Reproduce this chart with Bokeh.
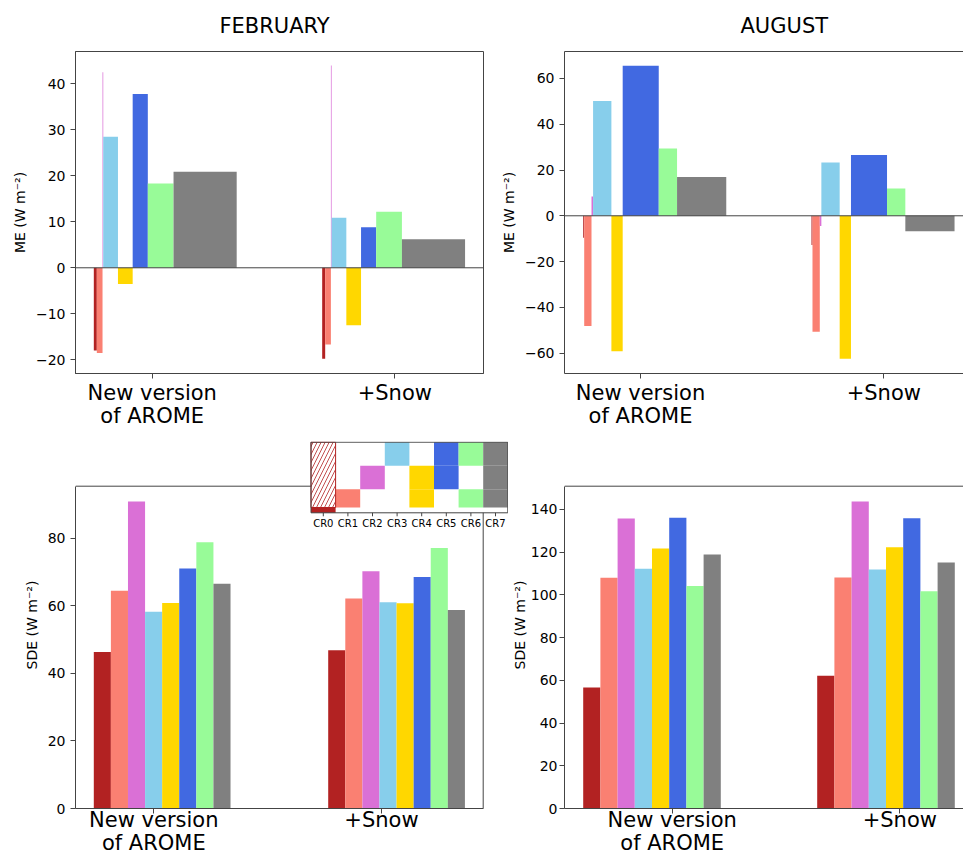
import numpy as np
from bokeh.plotting import figure
from bokeh.layouts import column, row
from bokeh.models import Range1d, LinearAxis, FixedTicker, Span
from bokeh.embed import file_html
from bokeh.resources import INLINE
from bokeh.core.properties import value

FONT = "DejaVu Sans"
FRAME = "#444444"

# ---------------- data ----------------
regimes = ["CR0", "CR1", "CR2", "CR3", "CR4", "CR5", "CR6", "CR7"]
colors = ["firebrick", "salmon", "orchid", "skyblue", "gold", "royalblue", "palegreen", "gray"]
experiments = ["New version\nof AROME", "+Snow"]

# regime frequency of occurrence (%) -> widths of the ME bars
freq_feb = [2.1, 4.0, 0.5, 10.3, 10.3, 10.6, 18.0, 44.2]
freq_aug = [0.7, 5.1, 1.1, 12.8, 7.9, 25.2, 12.8, 34.4]

# mean error (W m-2)
me_feb_new = [-18.0, -18.5, 42.5, 28.5, -3.5, 37.8, 18.3, 20.9]
me_feb_snow = [-19.8, -16.7, 44.0, 10.9, -12.5, 8.8, 12.2, 6.2]
me_aug_new = [-9.6, -48.2, 8.4, 50.2, -59.2, 65.5, 29.4, 16.9]
me_aug_snow = [-12.8, -50.7, -4.5, 23.3, -62.5, 26.6, 11.9, -6.7]

# standard deviation of error (W m-2)
sde_feb_new = [46.3, 64.4, 90.8, 58.2, 60.8, 71.0, 78.8, 66.5]
sde_feb_snow = [46.8, 62.1, 70.2, 61.0, 60.7, 68.5, 77.1, 58.7]
sde_aug_new = [56.6, 108.0, 135.8, 112.2, 121.7, 136.1, 104.2, 118.9]
sde_aug_snow = [62.1, 108.1, 143.7, 111.9, 122.3, 135.9, 101.7, 115.2]

# cloud layers present in each regime (legend inset)
layers = [[], ["low"], ["mid"], ["high"], ["low", "mid"], ["mid", "high"],
          ["low", "high"], ["low", "mid", "high"]]

me_feb_ticks = [-20, -10, 0, 10, 20, 30, 40]
me_aug_ticks = [-60, -40, -20, 0, 20, 40, 60]
sde_feb_ticks = [0, 20, 40, 60, 80]
sde_aug_ticks = [0, 20, 40, 60, 80, 100, 120, 140]


# ---------------- helpers ----------------
def style_axis(ax):
    ax.axis_line_color = FRAME
    ax.axis_line_width = 1
    ax.major_tick_line_color = FRAME
    ax.major_tick_out = 5
    ax.major_tick_in = 0
    ax.minor_tick_line_color = None
    ax.major_label_text_font = FONT
    ax.major_label_text_font_size = "14px"
    ax.major_label_text_color = "black"
    ax.axis_label_text_font = FONT
    ax.axis_label_text_font_size = "14px"
    ax.axis_label_text_font_style = "normal"
    ax.axis_label_text_color = "black"
    ax.axis_label_text_line_height = 1.0


def make_fig(width, height, xr, yr, borders, outline=True, top_axis=False, xlab_standoff=2):
    l, r, t, b = borders
    p = figure(width=width, height=height, x_range=Range1d(*xr), y_range=Range1d(*yr),
               output_backend="svg", toolbar_location=None,
               min_border_left=l, min_border_right=r, min_border_top=t, min_border_bottom=b)
    p.grid.visible = False
    p.outline_line_color = FRAME if outline else None
    p.outline_line_width = 1
    p.border_fill_color = "white"
    p.background_fill_color = "white"
    for ax in p.axis:
        style_axis(ax)
    p.xaxis.ticker = FixedTicker(ticks=[0, 1])
    p.xaxis.major_label_overrides = {0: experiments[0], 1: experiments[1]}
    p.xaxis.major_label_text_font_size = "21px"
    p.xaxis.major_label_text_line_height = 0.96
    p.xaxis.major_label_standoff = xlab_standoff
    if top_axis:
        top = LinearAxis(ticker=FixedTicker(ticks=[]))
        style_axis(top)
        top.major_tick_out = 0
        p.add_layout(top, "above")
    return p


def set_yticks(p, ticks, label):
    p.yaxis.ticker = FixedTicker(ticks=ticks)
    p.yaxis.major_label_overrides = {t: str(t).replace("-", "\u2212") for t in ticks}
    p.yaxis.axis_label = label


def set_title(p, text, offset, standoff):
    p.title.text = text
    p.title.text_font = FONT
    p.title.text_font_size = "21px"
    p.title.text_font_style = "normal"
    p.title.text_color = "black"
    p.title.align = "left"
    p.title.vertical_align = "top"
    p.title.offset = offset
    p.title.standoff = standoff


def me_bars(p, freq, groups, group_left, total_width):
    w = np.array(freq) / 100.0 * total_width
    for vals, gl in zip(groups, group_left):
        v = np.array(vals)
        left = gl + np.concatenate([[0], np.cumsum(w)[:-1]])
        p.quad(left=left, right=left + w, bottom=np.minimum(v, 0), top=np.maximum(v, 0),
               fill_color=colors, line_color=None)
    p.add_layout(Span(location=0, dimension="width", line_color=FRAME, line_width=1))


def sde_bars(p, groups, group_left, bw):
    for vals, gl in zip(groups, group_left):
        x = gl + bw * (np.arange(len(vals)) + 0.5)
        p.vbar(x=x, width=bw, bottom=0, top=vals, fill_color=colors, line_color=None)


ME_LABEL = "ME (W m\u207b\u00b2)"
SDE_LABEL = "SDE (W m\u207b\u00b2)"

# ---------------- top-left: FEBRUARY ME ----------------
p1 = make_fig(495, 430, (-0.3162, 1.3657), (-22.98, 47.02), (75, 12, 51, 57))
set_yticks(p1, me_feb_ticks, ME_LABEL)
set_title(p1, "FEBRUARY", 144, 24)
me_bars(p1, freq_feb, [me_feb_new, me_feb_snow], [-0.2407, 0.7007], 0.589)

# ---------------- top-right: AUGUST ME ----------------
p2 = make_fig(468, 430, (-0.3124, 1.3276), (-68.9, 71.78), (69, 0, 51, 57),
              outline=False, top_axis=True)
set_yticks(p2, me_aug_ticks, ME_LABEL)
set_title(p2, "AUGUST", 176, 24)
me_bars(p2, freq_aug, [me_aug_new, me_aug_snow], [-0.2355, 0.7028], 0.588)

# ---------------- bottom row: frames share the same top (inset top) ----------------
ROW2_TOP, FR_TOP, FR_BOT = 430, 441, 808
VIS_TOP = 485.7
SPLIT = 508

# bottom-left: FEBRUARY SDE (+ legend inset)
BL_T0, BL_SP, BL_PU = 153.3, 227.7, 3.38


def blx(px):
    return (px - BL_T0) / BL_SP


def bly(py):
    return (FR_BOT - py) / BL_PU


vis_right, vis_top = blx(482.7), bly(VIS_TOP)
p3 = make_fig(SPLIT, 427, (blx(75), blx(SPLIT)), (0, bly(FR_TOP)),
              (75, 0, FR_TOP - ROW2_TOP, 857 - FR_BOT), outline=False, xlab_standoff=-6)
set_yticks(p3, sde_feb_ticks, SDE_LABEL)
p3.yaxis.bounds = (0, vis_top)
p3.xaxis.bounds = (blx(75), vis_right)
sde_bars(p3, [sde_feb_new, sde_feb_snow], [blx(93.3), blx(327.7)], 17.09 / BL_SP)
p3.segment(x0=[blx(75), vis_right], y0=[vis_top, 0], x1=[vis_right, vis_right], y1=[vis_top, vis_top],
           line_color=FRAME, line_width=1)

# legend inset
IL, IR, IT, IB = 310.5, 507.3, 441.7, 512.3
row_py = {"low": (507.0, 488.7), "mid": (488.7, 465.3), "high": (465.3, 441.7)}
cw = (IR - IL) / len(regimes)
p3.quad(left=[blx(IL)], right=[blx(IR)], bottom=[bly(IB)], top=[bly(IT)],
        fill_color="white", line_color=None)
cl, cr, cb, ct, cc = [], [], [], [], []
for i, lay in enumerate(layers):
    for name in lay:
        b, t = row_py[name]
        cl.append(blx(IL + i * cw)); cr.append(blx(IL + (i + 1) * cw))
        cb.append(bly(b)); ct.append(bly(t)); cc.append(colors[i])
p3.quad(left=cl, right=cr, bottom=cb, top=ct, fill_color=cc, line_color=None)
# clear-sky regime: hatched column with surface strip
p3.quad(left=[blx(IL)], right=[blx(IL + cw)], bottom=[bly(507.0)], top=[bly(IT)],
        fill_color="white", hatch_pattern="/", hatch_color=colors[0], hatch_scale=8,
        hatch_weight=0.8, line_color=colors[0], line_width=1)
p3.quad(left=[blx(IL)], right=[blx(IL + cw)], bottom=[bly(IB)], top=[bly(507.0)],
        fill_color=colors[0], line_color=None)
p3.quad(left=[blx(IL)], right=[blx(IR)], bottom=[bly(IB)], top=[bly(IT)],
        fill_color=None, line_color=FRAME, line_width=1)
xc = [blx(IL + (i + 0.5) * cw) for i in range(len(regimes))]
p3.segment(x0=xc, y0=[bly(IB)] * 8, x1=xc, y1=[bly(IB + 3.5)] * 8, line_color=FRAME, line_width=1)
p3.text(x=xc, y=[bly(IB + 5)] * 8, text=regimes, text_font=value(FONT), text_font_size="10px",
        text_align="center", text_baseline="top", text_color="black")

# bottom-right: AUGUST SDE
BR_T0, BR_SP, BR_PU = 671.7, 227.6, 2.136
br_vis_top = (FR_BOT - VIS_TOP) / BR_PU
p4 = make_fig(963 - SPLIT, 427, ((564 - BR_T0) / BR_SP, (963 - BR_T0) / BR_SP),
              (0, (FR_BOT - FR_TOP) / BR_PU),
              (564 - SPLIT, 0, FR_TOP - ROW2_TOP, 857 - FR_BOT), outline=False, xlab_standoff=-6)
set_yticks(p4, sde_aug_ticks, SDE_LABEL)
p4.yaxis.bounds = (0, br_vis_top)
p4.yaxis.major_label_standoff = 2
p4.yaxis.axis_label_standoff = 0
p4.segment(x0=[(564 - BR_T0) / BR_SP], y0=[br_vis_top], x1=[(963 - BR_T0) / BR_SP], y1=[br_vis_top],
           line_color=FRAME, line_width=1)
sde_bars(p4, [sde_aug_new, sde_aug_snow], [(582.7 - BR_T0) / BR_SP, (816.7 - BR_T0) / BR_SP],
         17.2 / BR_SP)

layout = column(row(p1, p2), row(p3, p4))
open("out.html", "w").write(file_html(layout, INLINE))
